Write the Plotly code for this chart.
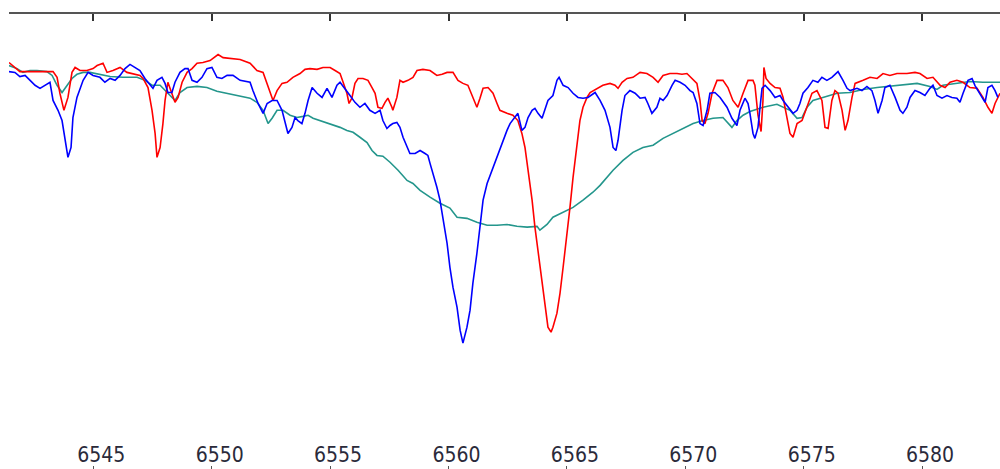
import plotly.graph_objects as go

# Wavelength (Angstrom) and normalised flux
red_wl = [6541.44, 6541.69, 6541.90, 6542.45, 6543.30, 6543.47, 6543.59, 6543.76, 6543.93, 6544.10,
          6544.23, 6544.44, 6544.73, 6544.99, 6545.16, 6545.41, 6545.58, 6545.83, 6546.13, 6546.42,
          6546.68, 6546.97, 6547.10, 6547.31, 6547.48, 6547.61, 6547.69, 6547.82, 6547.94, 6548.03,
          6548.15, 6548.32, 6548.45, 6548.58, 6548.75, 6548.96, 6549.17, 6549.38, 6549.63, 6549.93,
          6550.27, 6550.48, 6550.90, 6551.20, 6551.62, 6551.91, 6552.17, 6552.38, 6552.59, 6552.76,
          6552.97, 6553.18, 6553.43, 6553.73, 6553.94, 6554.15, 6554.45, 6554.70, 6555.00, 6555.21,
          6555.42, 6555.55, 6555.71, 6555.80, 6555.92, 6556.05, 6556.18, 6556.39, 6556.60, 6556.77,
          6556.90, 6557.02, 6557.19, 6557.32, 6557.44, 6557.61, 6557.65, 6557.82, 6557.95, 6558.08,
          6558.29, 6558.50, 6558.67, 6558.92, 6559.22, 6559.51, 6559.73, 6559.94, 6560.19, 6560.40,
          6560.61, 6560.82, 6561.03, 6561.20, 6561.33, 6561.46, 6561.67, 6561.88, 6562.05, 6562.17,
          6562.47, 6562.72, 6562.93, 6563.10, 6563.23, 6563.36, 6563.53, 6563.65, 6563.78, 6563.95,
          6564.07, 6564.20, 6564.33, 6564.41, 6564.58, 6564.71, 6564.84, 6565.00, 6565.13, 6565.26,
          6565.43, 6565.55, 6565.68, 6565.85, 6565.98, 6566.27, 6566.52, 6566.82, 6567.03, 6567.16,
          6567.33, 6567.54, 6567.79, 6568.09, 6568.38, 6568.64, 6568.85, 6569.06, 6569.35, 6569.65,
          6569.86, 6570.07, 6570.28, 6570.49, 6570.62, 6570.71, 6570.83, 6570.96, 6571.13, 6571.34,
          6571.59, 6571.80, 6572.01, 6572.23, 6572.44, 6572.65, 6572.86, 6572.94, 6573.07, 6573.20,
          6573.28, 6573.32, 6573.41, 6573.58, 6573.79, 6574.00, 6574.13, 6574.29, 6574.42, 6574.55,
          6574.72, 6574.93, 6575.14, 6575.35, 6575.56, 6575.77, 6575.90, 6576.03, 6576.19, 6576.32,
          6576.45, 6576.62, 6576.75, 6576.87, 6577.04, 6577.17, 6577.51, 6577.80, 6578.10, 6578.35,
          6578.64, 6578.94, 6579.36, 6579.70, 6579.91, 6580.21, 6580.46, 6580.76, 6580.97, 6581.18,
          6581.47, 6581.73, 6582.02, 6582.32, 6582.57, 6582.78, 6582.95, 6583.08, 6583.29]
red_flux = [1.072, 1.059, 1.048, 1.048, 1.048, 1.033, 0.991, 0.946, 0.980, 1.046,
            1.059, 1.051, 1.051, 1.056, 1.064, 1.070, 1.046, 1.051, 1.059, 1.046,
            1.043, 1.038, 1.030, 1.006, 0.946, 0.885, 0.822, 0.848, 0.911, 0.972,
            1.020, 0.991, 0.967, 0.980, 1.020, 1.046, 1.056, 1.070, 1.072, 1.077,
            1.093, 1.085, 1.083, 1.080, 1.070, 1.051, 1.046, 1.006, 0.972, 0.998,
            1.017, 1.020, 1.033, 1.043, 1.054, 1.056, 1.054, 1.059, 1.059, 1.051,
            1.043, 1.020, 0.991, 0.964, 0.978, 1.017, 1.030, 1.030, 1.025, 1.006,
            0.991, 0.954, 0.951, 0.967, 0.978, 0.954, 0.946, 0.980, 1.025, 1.020,
            1.025, 1.033, 1.051, 1.054, 1.051, 1.038, 1.041, 1.046, 1.046, 1.025,
            1.017, 1.012, 0.980, 0.954, 0.978, 1.004, 1.006, 0.991, 0.964, 0.946,
            0.938, 0.933, 0.919, 0.885, 0.848, 0.788, 0.709, 0.638, 0.577, 0.506,
            0.445, 0.374, 0.361, 0.374, 0.411, 0.464, 0.532, 0.611, 0.690, 0.769,
            0.854, 0.919, 0.954, 0.980, 0.993, 1.004, 1.012, 1.017, 1.012, 1.004,
            1.020, 1.030, 1.033, 1.046, 1.043, 1.033, 1.020, 1.038, 1.043, 1.043,
            1.041, 1.043, 1.030, 1.017, 0.972, 0.919, 0.911, 0.938, 0.991, 1.025,
            1.025, 1.006, 0.972, 0.954, 0.991, 1.025, 1.025, 1.012, 0.933, 0.890,
            0.972, 1.059, 1.030, 1.017, 1.006, 1.004, 0.980, 0.927, 0.885, 0.875,
            0.911, 0.919, 0.954, 0.991, 0.998, 0.972, 0.901, 0.898, 0.972, 0.998,
            0.991, 0.946, 0.893, 0.919, 0.980, 1.017, 1.025, 1.033, 1.030, 1.043,
            1.038, 1.043, 1.043, 1.046, 1.043, 1.030, 1.033, 1.012, 1.006, 1.020,
            1.025, 1.020, 1.006, 1.004, 0.980, 0.954, 0.938, 0.964, 0.991]

blue_wl = [6541.44, 6541.69, 6541.90, 6542.12, 6542.33, 6542.54, 6542.75, 6542.96, 6543.17, 6543.30,
           6543.51, 6543.68, 6543.80, 6543.93, 6544.06, 6544.14, 6544.31, 6544.44, 6544.57, 6544.78,
           6544.99, 6545.28, 6545.49, 6545.71, 6545.92, 6546.13, 6546.34, 6546.55, 6546.76, 6546.97,
           6547.18, 6547.39, 6547.52, 6547.69, 6547.90, 6548.03, 6548.15, 6548.32, 6548.45, 6548.66,
           6548.87, 6549.00, 6549.17, 6549.38, 6549.59, 6549.80, 6550.01, 6550.22, 6550.43, 6550.65,
           6550.90, 6551.20, 6551.62, 6551.74, 6551.96, 6552.17, 6552.34, 6552.55, 6552.76, 6552.97,
           6553.10, 6553.22, 6553.39, 6553.52, 6553.64, 6553.81, 6553.94, 6554.07, 6554.24, 6554.45,
           6554.66, 6554.87, 6555.08, 6555.29, 6555.42, 6555.63, 6555.84, 6556.05, 6556.26, 6556.47,
           6556.68, 6556.90, 6557.11, 6557.23, 6557.40, 6557.53, 6557.65, 6557.82, 6557.95, 6558.08,
           6558.25, 6558.37, 6558.59, 6558.80, 6559.01, 6559.13, 6559.22, 6559.35, 6559.51, 6559.64,
           6559.77, 6559.94, 6560.06, 6560.19, 6560.36, 6560.49, 6560.61, 6560.78, 6560.91, 6561.03,
           6561.20, 6561.33, 6561.46, 6561.63, 6561.84, 6562.05, 6562.17, 6562.30, 6562.47, 6562.60,
           6562.81, 6562.93, 6563.10, 6563.23, 6563.36, 6563.53, 6563.65, 6563.78, 6563.95, 6564.07,
           6564.20, 6564.41, 6564.58, 6564.67, 6564.84, 6565.05, 6565.26, 6565.47, 6565.68, 6565.89,
           6566.19, 6566.40, 6566.61, 6566.82, 6566.95, 6567.07, 6567.16, 6567.33, 6567.45, 6567.66,
           6567.88, 6568.09, 6568.30, 6568.42, 6568.59, 6568.80, 6568.93, 6569.06, 6569.23, 6569.44,
           6569.57, 6569.78, 6569.99, 6570.20, 6570.33, 6570.49, 6570.62, 6570.75, 6570.92, 6571.04,
           6571.25, 6571.47, 6571.76, 6571.97, 6572.18, 6572.31, 6572.52, 6572.65, 6572.73, 6572.86,
           6572.94, 6573.07, 6573.24, 6573.37, 6573.58, 6573.79, 6574.00, 6574.13, 6574.34, 6574.55,
           6574.72, 6574.84, 6574.97, 6575.18, 6575.39, 6575.60, 6575.77, 6575.98, 6576.19, 6576.45,
           6576.66, 6576.83, 6576.96, 6577.25, 6577.46, 6577.67, 6577.88, 6578.01, 6578.14, 6578.31,
           6578.43, 6578.64, 6578.86, 6579.07, 6579.19, 6579.36, 6579.49, 6579.70, 6579.91, 6580.12,
           6580.33, 6580.46, 6580.63, 6580.84, 6581.05, 6581.26, 6581.47, 6581.60, 6581.73, 6581.94,
           6582.11, 6582.23, 6582.36, 6582.53, 6582.66, 6582.78, 6582.95, 6583.08, 6583.20]
blue_flux = [1.048, 1.046, 1.035, 1.038, 1.025, 1.012, 1.004, 1.012, 1.020, 0.972,
             0.946, 0.919, 0.867, 0.822, 0.848, 0.927, 0.980, 1.004, 1.025, 1.046,
             1.038, 1.033, 1.020, 1.030, 1.025, 1.038, 1.056, 1.067, 1.059, 1.051,
             1.030, 1.012, 1.004, 1.025, 1.033, 1.017, 0.993, 0.993, 1.020, 1.046,
             1.056, 1.056, 1.025, 1.020, 1.033, 1.056, 1.059, 1.033, 1.030, 1.038,
             1.038, 1.025, 1.020, 0.998, 0.964, 0.938, 0.964, 0.972, 0.972, 0.946,
             0.911, 0.885, 0.901, 0.927, 0.919, 0.911, 0.938, 0.972, 1.006, 0.991,
             0.980, 1.004, 0.980, 1.012, 1.020, 1.004, 0.985, 0.967, 0.954, 0.964,
             0.946, 0.938, 0.946, 0.919, 0.898, 0.906, 0.911, 0.914, 0.901, 0.875,
             0.848, 0.832, 0.832, 0.840, 0.832, 0.827, 0.806, 0.780, 0.743, 0.709,
             0.664, 0.595, 0.532, 0.479, 0.427, 0.366, 0.332, 0.374, 0.419, 0.490,
             0.569, 0.648, 0.709, 0.753, 0.788, 0.822, 0.840, 0.867, 0.893, 0.911,
             0.927, 0.938, 0.893, 0.901, 0.927, 0.946, 0.951, 0.938, 0.925, 0.946,
             0.972, 0.985, 1.025, 1.033, 1.012, 1.006, 0.991, 0.980, 0.978, 0.980,
             0.993, 0.972, 0.946, 0.901, 0.848, 0.840, 0.867, 0.946, 0.985, 0.998,
             0.991, 0.978, 0.980, 0.964, 0.938, 0.954, 0.978, 0.972, 0.985, 1.012,
             1.025, 1.020, 1.012, 0.998, 0.993, 0.964, 0.911, 0.906, 0.946, 0.991,
             0.993, 0.980, 0.954, 0.925, 0.906, 0.946, 0.978, 0.964, 0.938, 0.885,
             0.872, 0.901, 1.004, 1.012, 0.998, 0.980, 0.985, 0.972, 0.954, 0.938,
             0.946, 0.964, 0.991, 1.006, 1.025, 1.020, 1.033, 1.025, 1.033, 1.048,
             1.025, 1.004, 0.998, 1.004, 0.998, 1.009, 0.998, 0.972, 0.938, 0.972,
             1.006, 1.012, 0.980, 0.946, 0.938, 0.954, 0.980, 0.998, 0.993, 0.985,
             1.004, 1.012, 0.985, 0.978, 0.985, 0.980, 0.978, 0.967, 0.991, 1.025,
             1.030, 1.012, 0.998, 0.980, 0.967, 1.006, 1.012, 0.998, 0.980]

teal_wl = [6541.44, 6541.78, 6542.03, 6542.33, 6542.62, 6543.04, 6543.26, 6543.47, 6543.68, 6543.89,
           6544.10, 6544.31, 6544.57, 6544.86, 6545.28, 6545.71, 6546.25, 6546.85, 6547.18, 6547.48,
           6547.82, 6548.11, 6548.32, 6548.45, 6548.66, 6548.96, 6549.38, 6549.80, 6550.22, 6550.65,
           6551.07, 6551.62, 6551.91, 6552.17, 6552.38, 6552.55, 6552.76, 6553.01, 6553.31, 6553.60,
           6553.86, 6554.07, 6554.28, 6554.57, 6555.00, 6555.42, 6555.71, 6555.97, 6556.26, 6556.56,
           6556.77, 6556.98, 6557.23, 6557.53, 6557.87, 6558.25, 6558.50, 6558.80, 6559.22, 6559.64,
           6560.06, 6560.36, 6560.78, 6561.20, 6561.63, 6562.05, 6562.47, 6562.89, 6563.32, 6563.74,
           6563.86, 6564.16, 6564.41, 6564.84, 6565.26, 6565.68, 6566.10, 6566.40, 6566.95, 6567.37,
           6567.79, 6568.21, 6568.64, 6569.06, 6569.48, 6569.90, 6570.33, 6570.75, 6571.17, 6571.59,
           6571.80, 6571.97, 6572.18, 6572.44, 6572.73, 6573.28, 6573.87, 6574.13, 6574.42, 6574.72,
           6574.93, 6575.14, 6575.39, 6575.81, 6576.41, 6576.96, 6577.51, 6578.10, 6578.64, 6579.19,
           6579.79, 6580.33, 6580.63, 6580.88, 6581.47, 6582.02, 6582.57, 6583.29]
teal_flux = [1.064, 1.056, 1.046, 1.051, 1.051, 1.048, 1.038, 1.012, 0.993, 1.012,
             1.030, 1.041, 1.046, 1.046, 1.041, 1.035, 1.033, 1.033, 1.025, 1.012,
             1.012, 0.993, 0.978, 0.972, 0.993, 1.006, 1.009, 1.006, 0.996, 0.991,
             0.985, 0.978, 0.967, 0.946, 0.911, 0.925, 0.946, 0.946, 0.933, 0.927,
             0.930, 0.933, 0.925, 0.919, 0.911, 0.901, 0.893, 0.888, 0.875, 0.861,
             0.840, 0.827, 0.825, 0.809, 0.788, 0.761, 0.753, 0.735, 0.717, 0.701,
             0.688, 0.664, 0.661, 0.651, 0.643, 0.643, 0.645, 0.640, 0.638, 0.640,
             0.630, 0.645, 0.664, 0.677, 0.690, 0.709, 0.730, 0.748, 0.788, 0.814,
             0.835, 0.848, 0.854, 0.872, 0.885, 0.898, 0.911, 0.919, 0.925, 0.927,
             0.914, 0.901, 0.919, 0.933, 0.943, 0.954, 0.962, 0.954, 0.946, 0.925,
             0.927, 0.954, 0.972, 0.980, 0.991, 0.993, 1.001, 1.006, 1.009, 1.012,
             1.017, 1.009, 1.001, 1.012, 1.017, 1.022, 1.020, 1.020]

tick_vals = [6545, 6550, 6555, 6560, 6565, 6570, 6575, 6580]
tick_text = ["6545", "6550", "6555", "6560", "6565", "6570", "6575", "6580"]
x_range = [6541.44, 6583.29]
y_range = [0.0, 1.2]

fig = go.Figure()
fig.add_trace(go.Scatter(x=teal_wl, y=teal_flux, mode="lines",
                         line=dict(color="#24968c", width=1.6), showlegend=False))
fig.add_trace(go.Scatter(x=red_wl, y=red_flux, mode="lines",
                         line=dict(color="#ff0000", width=1.6), showlegend=False))
fig.add_trace(go.Scatter(x=blue_wl, y=blue_flux, mode="lines",
                         line=dict(color="#0000ff", width=1.6), showlegend=False))
fig.add_trace(go.Scatter(x=[x_range[0]], y=[y_range[0]], xaxis="x2", mode="markers",
                         marker=dict(opacity=0), hoverinfo="skip", showlegend=False))

fig.update_layout(
    template="none",
    width=1000, height=469,
    margin=dict(l=9, r=0, t=14, b=0, pad=0),
    paper_bgcolor="white", plot_bgcolor="white",
    xaxis=dict(range=x_range, tickvals=tick_vals, ticktext=tick_text, automargin=False,
               showline=False, showgrid=False, zeroline=False,
               ticks="inside", ticklen=3, tickwidth=1, tickcolor="#555555",
               ticklabelposition="inside", ticklabelshift=8, ticklabelstandoff=1,
               tickfont=dict(family="DejaVu Sans Condensed, Liberation Sans, sans-serif",
                             size=21, color="#2a2a3a")),
    xaxis2=dict(range=x_range, overlaying="x", side="top", automargin=False,
                tickvals=tick_vals, showticklabels=False,
                showline=True, linecolor="#555555", linewidth=1.5,
                showgrid=False, zeroline=False,
                ticks="inside", ticklen=7, tickwidth=2, tickcolor="#333333"),
    yaxis=dict(range=y_range, visible=False, showgrid=False, zeroline=False, automargin=False),
)

fig.write_html("out.html", config={"displayModeBar": False},
               post_script="document.body.style.margin='0px';document.body.style.overflow='hidden';")
